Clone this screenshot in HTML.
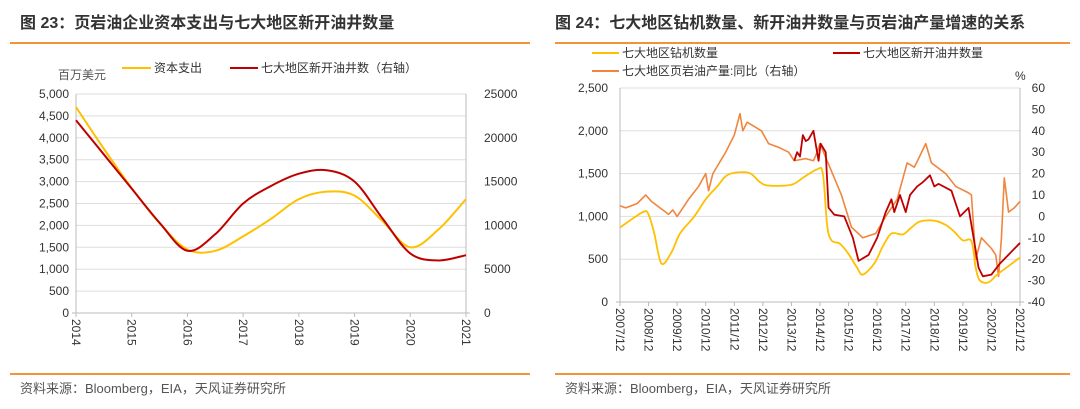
<!DOCTYPE html>
<html><head><meta charset="utf-8">
<style>
body{margin:0;background:#fff;width:1080px;height:409px;overflow:hidden;font-family:"Liberation Sans","Noto Sans CJK SC",sans-serif;}
svg{display:block}
</style></head>
<body>
<svg width="1080" height="409" font-family="Liberation Sans, Noto Sans CJK SC, sans-serif">
<text x="20" y="28" font-size="16" font-weight="bold" fill="#333">图 23：页岩油企业资本支出与七大地区新开油井数量</text>
<text x="555" y="28" font-size="16" font-weight="bold" fill="#333">图 24：七大地区钻机数量、新开油井数量与页岩油产量增速的关系</text>
<rect x="10" y="42" width="520" height="2" fill="#F4923A"/>
<rect x="555" y="42" width="515" height="2" fill="#F4923A"/>
<rect x="10" y="373" width="520" height="2" fill="#F4923A"/>
<rect x="555" y="373" width="515" height="2" fill="#F4923A"/>
<text x="20" y="393" font-size="13" fill="#555">资料来源：Bloomberg，EIA，天风证券研究所</text>
<text x="565" y="393" font-size="13" fill="#555">资料来源：Bloomberg，EIA，天风证券研究所</text>
<g id="left"></g>
<g id="right"></g>
</svg>
<script>
// ---- Left chart data ----
const capexYears=[2014,2014.5,2015,2015.5,2016,2016.5,2017,2017.5,2018,2018.5,2019,2019.5,2020,2020.5,2021];
const capexValues=[4700,3750,2850,2050,1450,1420,1750,2150,2600,2770,2680,2100,1500,1900,2600];
const wellYears=[2014,2014.5,2015,2015.5,2016,2016.5,2017,2017.5,2018,2018.5,2019,2019.5,2020,2020.5,2021];
const wellValues=[22000,18100,14200,10300,7100,9000,12500,14500,15900,16300,15000,10800,6800,6000,6600];
const leftTicks=[0,500,1000,1500,2000,2500,3000,3500,4000,4500,5000];
const rightTicks=[0,5000,10000,15000,20000,25000];
const yearLabels=['2014','2015','2016','2017','2018','2019','2020','2021'];
// ---- Right chart data (t = years since 2007/12) ----
const rigT=[0,0.8,1.0,1.2,1.45,1.8,2.1,2.6,3.0,3.4,3.8,4.5,4.9,5.2,6.0,6.4,6.9,7.1,7.25,7.4,7.7,8.0,8.3,8.5,8.9,9.2,9.5,9.9,10.2,10.5,11.0,11.4,11.7,12.0,12.3,12.45,12.6,12.9,13.2,13.6,14.0];
const rigValues=[870,1050,1020,800,450,580,800,1000,1200,1350,1490,1510,1400,1360,1370,1450,1550,1500,900,720,680,560,400,320,450,650,800,790,870,940,950,900,820,720,710,400,250,230,320,420,520];
const newWellT=[6.1,6.2,6.3,6.4,6.5,6.6,6.77,6.95,7.02,7.2,7.3,7.5,7.85,8.15,8.35,8.7,9.0,9.3,9.5,9.6,9.8,10.0,10.15,10.4,10.6,10.85,11.0,11.15,11.6,11.9,12.2,12.35,12.55,12.7,13.0,13.3,14.0];
const newWellValues=[1650,1750,1700,1950,1880,1900,2000,1650,1850,1750,1100,1020,1000,750,480,550,750,1050,1200,1050,1250,1050,1250,1350,1400,1480,1350,1380,1300,1000,1100,800,400,300,320,450,690];
const yoyT=[0,0.2,0.6,0.9,1.1,1.4,1.7,1.85,2.0,2.4,2.75,3.0,3.1,3.25,3.7,4.0,4.2,4.3,4.45,4.95,5.2,5.6,5.9,6.1,6.5,6.77,6.9,7.0,7.25,7.75,8.1,8.5,8.95,9.3,9.7,10.05,10.3,10.45,10.7,10.9,11.4,11.75,12.2,12.3,12.45,12.65,13.0,13.15,13.25,13.35,13.45,13.6,13.8,14.0];
const yoyValues=[5,4,6,10,7,4,1,3,0,8,14,20,12,20,30,38,48,40,44,40,34,32,30,26,27,26,30,34,26,10,-5,-10,-8,0,8,25,23,27,34,25,20,14,11,10,-20,-10,-15,-18,-28,-10,18,2,4,7];
const dateLabels=['2007/12','2008/12','2009/12','2010/12','2011/12','2012/12','2013/12','2014/12','2015/12','2016/12','2017/12','2018/12','2019/12','2020/12','2021/12'];
const rLeftTicks=[0,500,1000,1500,2000,2500];
const rRightTicks=[-40,-30,-20,-10,0,10,20,30,40,50,60];

const NS='http://www.w3.org/2000/svg';
function mk(tag,attrs,parent){const e=document.createElementNS(NS,tag);for(const k in attrs)e.setAttribute(k,attrs[k]);parent.appendChild(e);return e;}
function smooth(pts){let d='M'+pts[0][0]+','+pts[0][1];for(let i=0;i<pts.length-1;i++){const p0=pts[i-1]||pts[i],p1=pts[i],p2=pts[i+1],p3=pts[i+2]||p2;const c1x=p1[0]+(p2[0]-p0[0])/6,c1y=p1[1]+(p2[1]-p0[1])/6,c2x=p2[0]-(p3[0]-p1[0])/6,c2y=p2[1]-(p3[1]-p1[1])/6;d+=' C'+c1x+','+c1y+' '+c2x+','+c2y+' '+p2[0]+','+p2[1];}return d;}
function poly(pts){return 'M'+pts.map(p=>p[0]+','+p[1]).join(' L');}

// ---- Left chart ----
(function(){
const g=document.getElementById('left');
const X0=76,X1=466,Y0=313,Y1=94;
const xs=y=>X0+(y-2014)/7*(X1-X0);
const yl=v=>Y0-v/5000*(Y0-Y1);
const yr=v=>Y0-v/25000*(Y0-Y1);
leftTicks.forEach(t=>{
 if(t>0){const l=mk('line',{x1:X0,x2:X1,y1:yl(t),y2:yl(t),stroke:'#ddd','stroke-width':1},g);}
 const tx=mk('text',{x:X0-7,y:yl(t)+4,'font-size':12,'text-anchor':'end',fill:'#333'},g);tx.textContent=t.toLocaleString('en-US');
 
});
rightTicks.forEach(t=>{const tx=mk('text',{x:X1+18,y:yr(t)+4,'font-size':12,fill:'#333'},g);tx.textContent=String(t);
 });
let a=mk('line',{x1:X0,x2:X0,y1:Y1,y2:Y0,stroke:'#bbb'},g);
a=mk('line',{x1:X1,x2:X1,y1:Y1,y2:Y0,stroke:'#bbb'},g);
a=mk('line',{x1:X0-4,x2:X1+4,y1:Y0,y2:Y0,stroke:'#bbb'},g);
yearLabels.forEach((lab,i)=>{const x=xs(2014+i);
 const tk=mk('line',{x1:x,x2:x,y1:Y0,y2:Y0+4,stroke:'#bbb'},g);
 const tx=mk('text',{x:0,y:0,'font-size':12,fill:'#333',transform:'translate('+(x-4)+','+(Y0+6)+') rotate(90)'},g);tx.textContent=lab;
 });
const cap=mk('path',{d:smooth(capexYears.map((y,i)=>[xs(y),yl(capexValues[i])])),fill:'none',stroke:'#FFC000','stroke-width':2},g);

const wl=mk('path',{d:smooth(wellYears.map((y,i)=>[xs(y),yr(wellValues[i])])),fill:'none',stroke:'#C00000','stroke-width':2},g);

let t=mk('text',{x:58,y:79,'font-size':12,fill:'#555'},g);t.textContent='百万美元';
let l=mk('line',{x1:122,x2:151,y1:68,y2:68,stroke:'#FFC000','stroke-width':2},g);
t=mk('text',{x:154,y:72,'font-size':12,fill:'#333'},g);t.textContent='资本支出';
l=mk('line',{x1:230,x2:258,y1:68,y2:68,stroke:'#C00000','stroke-width':2},g);
t=mk('text',{x:261,y:72,'font-size':12,fill:'#333'},g);t.textContent='七大地区新开油井数（右轴）';
})();

// ---- Right chart ----
(function(){
const g=document.getElementById('right');
const X0=620,X1=1020,Y0=302,Y1=88;
const xs=t=>X0+t/14*(X1-X0);
const yl=v=>Y0-v/2500*(Y0-Y1);
const yr=v=>Y0-(v+40)/100*(Y0-Y1);
rLeftTicks.forEach(t=>{
 if(t>0){const l=mk('line',{x1:X0,x2:X1,y1:yl(t),y2:yl(t),stroke:'#ddd'},g);}
 const tx=mk('text',{x:X0-12,y:yl(t)+4,'font-size':12,'text-anchor':'end',fill:'#333'},g);tx.textContent=t.toLocaleString('en-US');
 });
rRightTicks.forEach(t=>{const tx=mk('text',{x:1045,y:yr(t)+4,'font-size':12,'text-anchor':'end',fill:'#333'},g);tx.textContent=String(t);
 });
let a=mk('line',{x1:X0,x2:X0,y1:Y1,y2:Y0,stroke:'#bbb'},g);
a=mk('line',{x1:X1,x2:X1,y1:Y1,y2:Y0,stroke:'#bbb'},g);
a=mk('line',{x1:X0-4,x2:X1+4,y1:Y0,y2:Y0,stroke:'#bbb'},g);
dateLabels.forEach((lab,i)=>{const x=xs(i);
 const tk=mk('line',{x1:x,x2:x,y1:Y0,y2:Y0+4,stroke:'#bbb'},g);
 const tx=mk('text',{x:0,y:0,'font-size':12,fill:'#333',transform:'translate('+(x-4)+','+(Y0+6)+') rotate(90)'},g);tx.textContent=lab;
 });
const yo=mk('path',{d:poly(yoyT.map((t,i)=>[xs(t),yr(yoyValues[i])])),fill:'none',stroke:'#F0853E','stroke-width':1.6,'stroke-linejoin':'round'},g);

const rg=mk('path',{d:smooth(rigT.map((t,i)=>[xs(t),yl(rigValues[i])])),fill:'none',stroke:'#FFC000','stroke-width':1.8},g);

const nw=mk('path',{d:poly(newWellT.map((t,i)=>[xs(t),yl(newWellValues[i])])),fill:'none',stroke:'#C00000','stroke-width':1.8,'stroke-linejoin':'round'},g);

let t=mk('text',{x:1015,y:80,'font-size':12,fill:'#333'},g);t.textContent='%';
let l=mk('line',{x1:592,x2:619,y1:53,y2:53,stroke:'#FFC000','stroke-width':2},g);
t=mk('text',{x:622,y:57,'font-size':12,fill:'#333'},g);t.textContent='七大地区钻机数量';
l=mk('line',{x1:833,x2:860,y1:53,y2:53,stroke:'#C00000','stroke-width':2},g);
t=mk('text',{x:863,y:57,'font-size':12,fill:'#333'},g);t.textContent='七大地区新开油井数量';
l=mk('line',{x1:592,x2:619,y1:71,y2:71,stroke:'#F0853E','stroke-width':2},g);
t=mk('text',{x:622,y:75,'font-size':12,fill:'#333'},g);t.textContent='七大地区页岩油产量:同比（右轴）';
})();
</script>
</body></html>
